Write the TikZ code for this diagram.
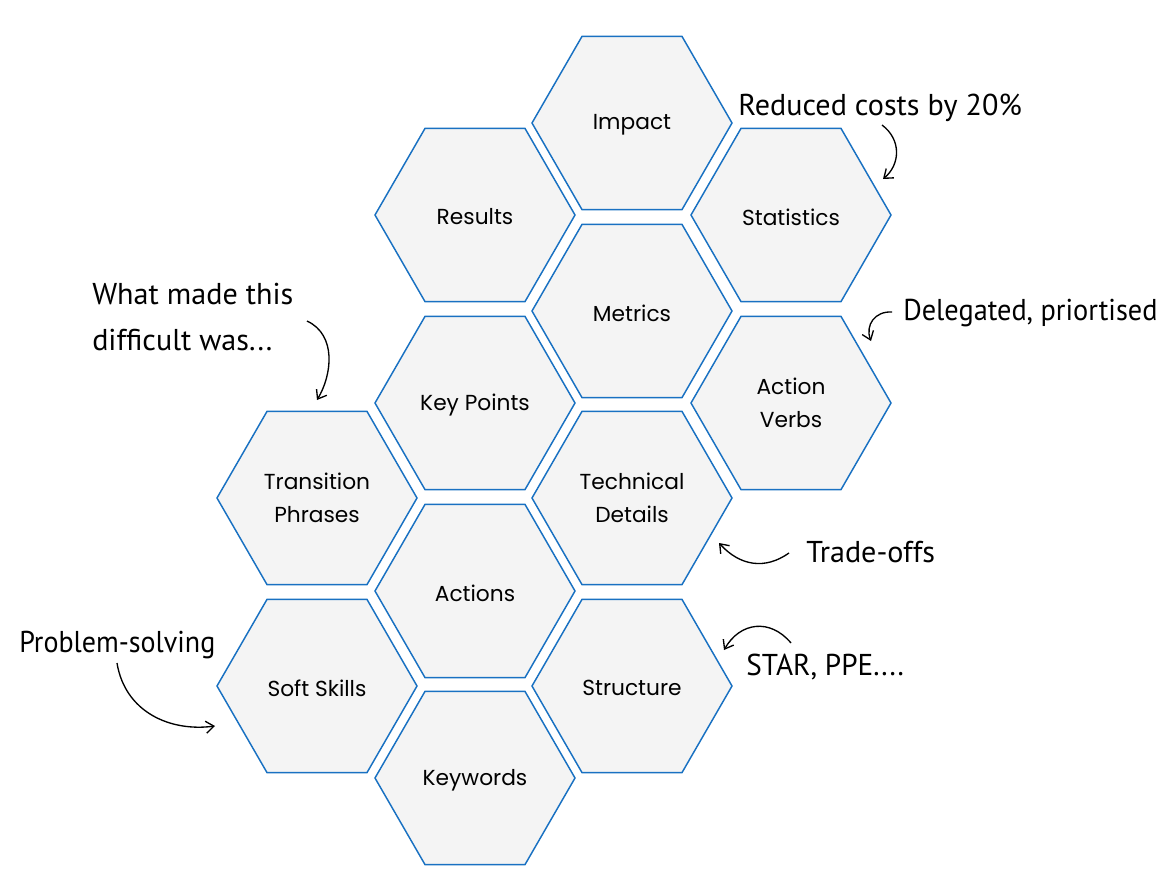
\documentclass[tikz,border=0pt]{standalone}
\usepackage{fontspec}
\setmainfont{Poppins}
\newfontfamily\handfont{PT Sans}
\usetikzlibrary{shapes.geometric,arrows.meta}
\definecolor{hexblue}{HTML}{1971C2}
\definecolor{hexfill}{HTML}{F4F4F4}
\tikzset{
  hexa/.style={regular polygon, regular polygon sides=6, minimum size=150pt,
    inner sep=0pt, outer sep=0pt, draw=hexblue, fill=hexfill, line width=1.1pt,
    font=\fontsize{16.3pt}{24.5pt}\selectfont, align=center, text=black},
  hexlabel/.style={font=\fontsize{16.3pt}{24.5pt}\selectfont, align=center, text=black, inner sep=0pt},
  note/.style={font=\handfont\fontsize{22.6pt}{33.8pt}\selectfont, inner sep=0pt, anchor=base west, align=left},
  pointer/.style={-{Straight Barb[length=6pt,width=9pt]}, line width=1pt, black}
}
\begin{document}
\begin{tikzpicture}[x=0.75pt,y=-0.75pt]
\useasboundingbox (0,0) rectangle (1172,882);
% hexagons
\node[hexa] (impact) at (632,123) {};
\node[hexa] (results) at (475,215) {};
\node[hexa] (stats) at (791,215) {};
\node[hexa] (metrics) at (632,311) {};
\node[hexa] (keypoints) at (475,403) {};
\node[hexa] (verbs) at (791,403) {};
\node[hexa] (transition) at (317,498) {};
\node[hexa] (technical) at (632,498) {};
\node[hexa] (actions) at (475,591) {};
\node[hexa] (soft) at (317,686) {};
\node[hexa] (structure) at (632,686) {};
\node[hexa] (keywords) at (475,778) {};
% hexagon labels
\node[hexlabel, yshift=-1.5pt] (l1) at (impact.center) {Impact};
\node[hexlabel, yshift=-1.5pt] (l2) at (results.center) {Results};
\node[hexlabel, yshift=-1.5pt] (l3) at (stats.center) {Statistics};
\node[hexlabel, yshift=-1.5pt] (l4) at (metrics.center) {Metrics};
\node[hexlabel, yshift=-1.5pt] (l5) at (keypoints.center) {Key Points};
\node[hexlabel] (l6) at (verbs.center) {Action\\Verbs};
\node[hexlabel] (l7) at (transition.center) {Transition\\Phrases};
\node[hexlabel] (l8) at (technical.center) {Technical\\Details};
\node[hexlabel, yshift=-1.5pt] (l9) at (actions.center) {Actions};
\node[hexlabel, yshift=-1.5pt] (l10) at (soft.center) {Soft Skills};
\node[hexlabel, yshift=-1.5pt] (l11) at (structure.center) {Structure};
\node[hexlabel, yshift=-1.5pt] (l12) at (keywords.center) {Keywords};
% annotations
\node[note] (n1) at (738,115) {Reduced costs by 20\%};
\node[note] (n2) at (92,350) {What made this\\difficult was...};
\node[note] (n3) at (903,320) {\scalebox{0.94}[1]{Delegated, priortised}};
\node[note] (n4) at (806,562) {Trade-offs};
\node[note] (n5) at (746,675) {\scalebox{0.97}[1]{STAR, PPE....}};
\node[note] (n6) at (19,652) {\scalebox{0.93}[1]{Problem-solving}};
% arrow ends
\coordinate (s1) at (882,125); \coordinate (e1) at (883,179);
\coordinate (s2) at (307,321); \coordinate (e2) at (317,400);
\coordinate (s3) at (892,312); \coordinate (e3) at (871,341);
\coordinate (s4) at (789,553); \coordinate (e4) at (719,543);
\coordinate (s5) at (791,643); \coordinate (e5) at (724,650);
\coordinate (s6) at (117,663); \coordinate (e6) at (215,726);
\draw[pointer] (s1) .. controls (902,140) and (900,165) .. (e1);
\draw[pointer] (s2) .. controls (337,335) and (332,375) .. (e2);
\draw[pointer] (s3) .. controls (875,311) and (865,325) .. (e3);
\draw[pointer] (s4) .. controls (765,570) and (740,566) .. (e4);
\draw[pointer] (s5) .. controls (770,618) and (740,622) .. (e5);
\draw[pointer] (s6) .. controls (125,712) and (170,732) .. (e6);
\end{tikzpicture}
\end{document}
